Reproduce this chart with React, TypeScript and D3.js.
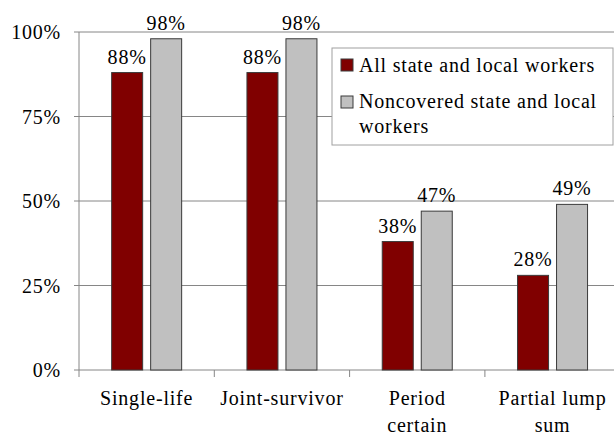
import React from 'react'
import * as d3 from 'd3'

const categories = [['Single-life'], ['Joint-survivor'], ['Period', 'certain'], ['Partial lump', 'sum']]
const seriesNames = ['All state and local workers', 'Noncovered state and local workers']
const allWorkers = [88, 88, 38, 28]
const noncovered = [98, 98, 47, 49]
const yTicks = [0, 25, 50, 75, 100]

const colors = ['#800000', '#c0c0c0']
const font = 'Liberation Serif, Times New Roman, DejaVu Serif, serif'

export default function App(): React.ReactElement {
  const width = 614
  const height = 435
  const marginLeft = 79
  const marginTop = 32
  const plotBottom = 370
  const bandW = 135.3

  const keys = categories.map((c) => c.join(' '))
  const x = d3
    .scaleBand()
    .domain(keys)
    .range([marginLeft, marginLeft + bandW * keys.length])
  const x1 = d3
    .scaleBand()
    .domain(['0', '1'])
    .range([(bandW - 70) / 2, (bandW + 70) / 2])
    .paddingInner(8 / 39)
  const y = d3.scaleLinear().domain([0, 100]).range([plotBottom, marginTop])

  const series = [allWorkers, noncovered]
  const ts: React.CSSProperties = { fontFamily: font, fontSize: 20, letterSpacing: 0.8 }

  return (
    <svg
      width={width}
      height={height}
      style={{ position: 'absolute', left: 0, top: 0, background: '#fff' }}
    >
      {yTicks.map((t) => (
        <g key={t}>
          <line x1={marginLeft - 5} x2={width} y1={y(t)} y2={y(t)} stroke="#868686" strokeWidth={1} />
          <text x={61} y={y(t)} dy="0.35em" textAnchor="end" style={ts} fill="#000">
            {t}%
          </text>
        </g>
      ))}
      <line x1={marginLeft} x2={marginLeft} y1={marginTop} y2={plotBottom + 7} stroke="#868686" />
      {keys.slice(1).map((k) => (
        <line key={k} x1={x(k)!} x2={x(k)!} y1={plotBottom} y2={plotBottom + 7} stroke="#868686" />
      ))}
      {series.map((vals, si) =>
        vals.map((v, ci) => {
          const bx = x(keys[ci])! + x1(String(si))!
          return (
            <g key={`${si}-${ci}`}>
              <rect
                x={bx}
                y={y(v)}
                width={x1.bandwidth()}
                height={plotBottom - y(v)}
                fill={colors[si]}
                stroke="#3a3a3a"
                strokeWidth={1}
              />
              <text x={bx + x1.bandwidth() / 2} y={y(v) - 9} textAnchor="middle" style={ts}>
                {v}%
              </text>
            </g>
          )
        })
      )}
      {categories.map((lines, ci) => (
        <text key={ci} x={x(keys[ci])! + bandW / 2} y={405} textAnchor="middle" style={ts}>
          {lines.map((l, li) => (
            <tspan key={li} x={x(keys[ci])! + bandW / 2} dy={li === 0 ? 0 : 27}>
              {l}
            </tspan>
          ))}
        </text>
      ))}
      <g>
        <rect x={332} y={48} width={281} height={97} fill="#fff" stroke="#a0a0a0" />
        <rect x={341} y={59} width={12} height={12} fill={colors[0]} stroke="#3a3a3a" />
        <text x={359} y={72} style={ts}>
          {seriesNames[0]}
        </text>
        <rect x={341} y={96} width={12} height={12} fill={colors[1]} stroke="#3a3a3a" />
        <text x={359} y={108} style={ts}>
          <tspan x={359}>Noncovered state and local</tspan>
          <tspan x={359} dy={25}>
            workers
          </tspan>
        </text>
      </g>
    </svg>
  )
}
